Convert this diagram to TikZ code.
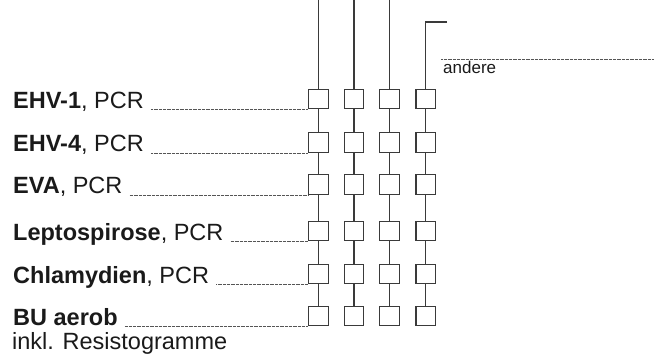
\documentclass[tikz,border=0pt]{standalone}
\usepackage{fontspec}
\setmainfont{Liberation Sans}
\definecolor{ink}{HTML}{1A1A1A}
\definecolor{linec}{HTML}{3A3A3A}
\definecolor{dotc}{HTML}{555555}
\tikzset{
  box/.style={draw=linec, line width=1.3pt, minimum width=19.5pt, minimum height=19.5pt, inner sep=0pt, fill=white},
  conn/.style={draw=linec, line width=1.3pt},
  dotline/.style={draw=dotc, line width=0.7pt, dash pattern=on 0.7pt off 0.6pt},
  lbl/.style={anchor=base west, inner sep=0pt, text=ink, font=\fontsize{23.5}{28}\selectfont},
  small/.style={anchor=base west, inner sep=0pt, text=ink, font=\fontsize{17}{20}\selectfont},
}
\begin{document}
\begin{tikzpicture}[x=1pt,y=-1pt]
\useasboundingbox (0,0) rectangle (671,356);
\begin{scope}
\clip (0,0) rectangle (671,356);
% boxes
\foreach \r/\y in {1/99,2/142.5,3/184.5,4/231,5/274,6/316}{
  \foreach \c/\x in {1/318.5,2/354,3/389.5,4/425.7}{
    \node[box] (b\r\c) at (\x,\y) {};
  }
}
% top lines
\foreach \c in {1,2,3}{
  \coordinate (top\c) at (b1\c.north |- 0,-5);
  \draw[conn] (top\c) -- (b1\c.north);
}
\coordinate (hook) at (447,22);
\draw[conn] (hook) -- (hook -| b14.north) -- (b14.north);
% connectors between boxes
\foreach \c in {1,2,3,4}{
  \foreach \r/\s in {1/2,2/3,3/4,4/5,5/6}{
    \draw[conn] (b\r\c.south) -- (b\s\c.north);
  }
}
% cut-off heading text at the very top (only its descenders show)
\node[lbl, anchor=base] (head1) at (466,-4.5) {g};
\node[lbl, anchor=base] (head2) at (530,-4.5) {)};
\end{scope}
% andere
\coordinate (andL) at (441,59);
\coordinate (andR) at (654,59);
\draw[dotline] (andL) -- (andR);
\node[small] (andere) at (443,73) {andere};
% labels
\node[lbl] (t1) at (13,108) {\textbf{EHV-1}, PCR};
\node[lbl] (t2) at (13,151.5) {\textbf{EHV-4}, PCR};
\node[lbl] (t3) at (13,193.5) {\textbf{EVA}, PCR};
\node[lbl] (t4) at (13,240.5) {\textbf{Leptospirose}, PCR};
\node[lbl] (t5) at (13,283.5) {\textbf{Chlamydien}, PCR};
\node[lbl] (t6) at (13,325) {\textbf{BU aerob}};
\node[lbl] (t7) at (12,349.5) {inkl. Resistogramme};
\foreach \r in {1,...,6}{
  \draw[dotline] ([xshift=7pt]t\r.east |- b\r1.south) -- (b\r1.south west);
}
\end{tikzpicture}
\end{document}
